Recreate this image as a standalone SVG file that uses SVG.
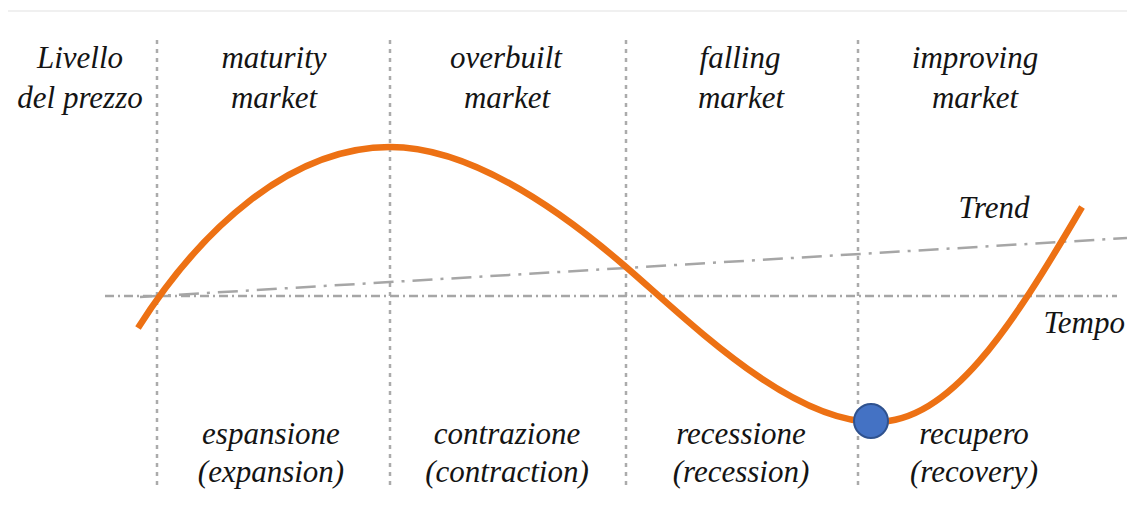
<svg xmlns="http://www.w3.org/2000/svg" width="1127" height="506" viewBox="0 0 1127 506">
<style>
.v{stroke:#ababab;stroke-width:2.5;stroke-dasharray:4 5;fill:none}
</style>
<rect width="1127" height="506" fill="#ffffff"/>
<line x1="8" y1="11" x2="1127" y2="11" stroke="#f0f0f0" stroke-width="2"/>
<g id="grid">
<line class="v" x1="157" y1="40" x2="157" y2="486"/>
<line class="v" x1="390" y1="40" x2="390" y2="486"/>
<line class="v" x1="626" y1="40" x2="626" y2="486"/>
<line class="v" x1="858" y1="40" x2="858" y2="486"/>
</g>
<g id="axes">
<line id="tempo-axis" x1="105" y1="296" x2="1117" y2="296" stroke="#a6a6a6" stroke-width="2.5" stroke-dasharray="9 4 2 4"/>
<line id="trend-line" x1="140" y1="297" x2="1127" y2="238" stroke="#a6a6a6" stroke-width="2.5" stroke-dasharray="20 8 3 8"/>
</g>
<g id="curve">
<path d="M138,328 C200,230 290,147 390,147 C470,147 560,210 626,267 C692,324 790,422 875,422 C950,422 1010,330 1082,207" fill="none" stroke="#ed7114" stroke-width="6.5"/>
</g>
<g id="point">
<circle cx="871" cy="421" r="17" fill="#4472c4" stroke="#2f528f" stroke-width="2"/>
</g>
<g font-family="Liberation Serif" font-style="italic" font-size="31" fill="#141414" text-anchor="middle">
<g id="labels-top">
<text x="80" y="68">Livello</text>
<text x="80" y="108">del prezzo</text>
<text x="274" y="68">maturity</text>
<text x="274" y="108">market</text>
<text x="506" y="68">overbuilt</text>
<text x="507" y="108">market</text>
<text x="740" y="68">falling</text>
<text x="741" y="108">market</text>
<text x="975" y="68">improving</text>
<text x="975" y="108">market</text>
</g>
<g id="labels-axes">
<text x="994" y="218">Trend</text>
<text x="1125" y="333" text-anchor="end">Tempo</text>
</g>
<g id="labels-bottom">
<text x="271" y="444">espansione</text>
<text x="271" y="482">(expansion)</text>
<text x="507" y="444">contrazione</text>
<text x="507" y="482">(contraction)</text>
<text x="741" y="444">recessione</text>
<text x="741" y="482">(recession)</text>
<text x="974" y="444">recupero</text>
<text x="974" y="482">(recovery)</text>
</g>
</g>
</svg>
